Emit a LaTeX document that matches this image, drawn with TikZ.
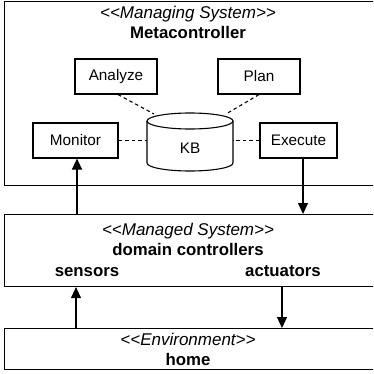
\documentclass[tikz,border=0pt]{standalone}
\usepackage{fontspec}
\setmainfont{Liberation Sans}
\usetikzlibrary{arrows.meta}
\newcommand{\stereo}[1]{<\kern0pt<#1>\kern0pt>}

\begin{document}
\begin{tikzpicture}[x=1pt,y=1pt,yscale=-1,
  layer/.style={draw, line width=1.1pt, anchor=north west, inner sep=0pt, minimum width=390pt},
  block/.style={draw, line width=1.1pt, inner sep=0pt, minimum height=35pt, font=\fontsize{15.3}{18}\selectfont},
  stereotag/.style={anchor=base, inner sep=0pt, font=\fontsize{17}{20}\selectfont\itshape},
  boldlabel/.style={anchor=base, inner sep=0pt, font=\fontsize{16.8}{20}\selectfont\bfseries},
  kblink/.style={line width=1.1pt, dash pattern=on 3.5pt off 3pt},
  flow/.style={line width=1.1pt, -{Triangle[length=11pt,width=10pt]}}]
\useasboundingbox (0,0) rectangle (373,374);
\clip (0,0) rectangle (373,374);

%Shape: layers
\node[layer, minimum height=184pt] (managing) at (4,1) {};
\node[layer, minimum height=72pt] (managed) at (4,214) {};
\node[layer, minimum height=41pt] (env) at (4,328) {};

%Shape: MAPE blocks
\node[block, minimum width=82pt] (analyze) at (116,76.5) {Analyze};
\node[block, minimum width=82pt] (plan) at (259,76.5) {Plan};
\node[block, minimum width=85pt] (monitor) at (75.5,140.5) {Monitor};
\node[block, minimum width=77pt] (execute) at (298.5,140.5) {Execute};

%Shape: Can
\draw[line width=1.1pt] (147,121) -- (147,163) arc[start angle=180, end angle=0, x radius=43, y radius=8] -- (233,121);
\draw[line width=1.1pt] (190,121) ellipse [x radius=43, y radius=8];
\node[inner sep=0pt, font=\fontsize{15.3}{18}\selectfont] (kb) at (190,148.5) {KB};
\coordinate (kbw) at (147,140.5);
\coordinate (kbe) at (233,140.5);
\coordinate (kbnw) at (154,114);
\coordinate (kbne) at (226,114);

%Straight Lines: dashed links to KB
\draw[kblink] ([xshift=2pt]analyze.south) -- (kbnw);
\draw[kblink] (plan.south) -- (kbne);
\draw[kblink] (monitor.east) -- (kbw);
\draw[kblink] (execute.west) -- (kbe);

%Straight Lines: arrows
\draw[flow] ([xshift=1.5pt]monitor.south |- managed.north) -- ([xshift=1.5pt]monitor.south);
\draw[flow] ([xshift=4.5pt]execute.south) -- ([xshift=4.5pt]execute.south |- managed.north);
\draw[flow] (env.north -| 76,0) -- (managed.south -| 76,0);
\draw[flow] (managed.south -| 282,0) -- (env.north -| 282,0);

% Text Node
\node[stereotag] (mgtag) at (188,18.5) {\stereo{Managing System}};
\node[boldlabel] (meta) at (188,39) {Metacontroller};
\node[stereotag] (mdtag) at (188,235) {\stereo{Managed System}};
\node[boldlabel] (domain) at (188,255) {domain controllers};
\node[boldlabel] (sensors) at (87,276.5) {sensors};
\node[boldlabel] (actuators) at (283,276.5) {actuators};
\node[stereotag] (envtag) at (188,345.5) {\stereo{Environment}};
\node[boldlabel] (home) at (188,365) {home};

\end{tikzpicture}
\end{document}
